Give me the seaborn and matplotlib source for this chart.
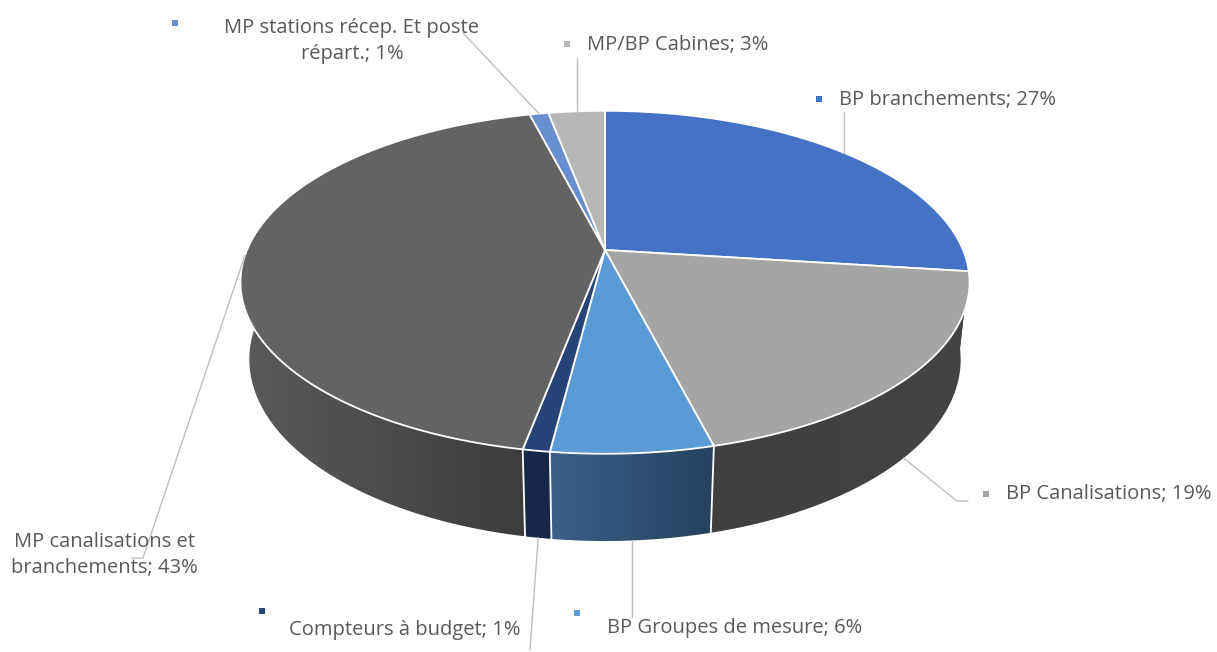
import textwrap
import numpy as np
import matplotlib
matplotlib.use("Agg")
import matplotlib.pyplot as plt
import seaborn as sns
from matplotlib.patches import Polygon
from matplotlib.colors import LinearSegmentedColormap

# donnees (parts en %)
categories = ["BP branchements", "BP Canalisations", "BP Groupes de mesure",
              "Compteurs à budget", "MP canalisations et branchements",
              "MP stations récep. Et poste répart.", "MP/BP Cabines"]
values = [27, 19, 6, 1, 43, 1, 3]

# couleurs dessus / cote (gauche -> droite)
top_colors = ["#4472C4", "#A5A5A5", "#5B9BD5", "#264478", "#636363", "#698ED0", "#B7B7B7"]
side_colors = [("#2b4c86", "#2b4c86"), ("#404040", "#444444"), ("#3a6089", "#25415e"),
               ("#172a4b", "#15284a"), ("#5a5a5a", "#3d3d3d"), ("#46619a", "#46619a"),
               ("#7a7a7a", "#7a7a7a")]

# position des etiquettes: marqueur, texte, alignement, largeur de coupure, trace du guide
label_layout = [
    dict(marker=(819, 99), text=(839, 100), ha="left", wrap=None, guide=[(None, 112)]),
    dict(marker=(986, 494), text=(1006, 494), ha="left", wrap=None, guide=[(957, 501), (968, 501)]),
    dict(marker=(577, 613), text=(607, 628), ha="left", wrap=None, guide=[(None, 617)]),
    dict(marker=(262, 611), text=(289, 630), ha="left", wrap=None, guide=[(530, 650)]),
    dict(marker=None, text=(104, 555), ha="center", wrap=20, guide=[(143, 558), (132, 558)]),
    dict(marker=(175, 23), text=(352, 41), ha="center", wrap=27, guide=[(463, 33)]),
    dict(marker=(567, 44), text=(587, 45), ha="left", wrap=None, guide=[(None, 58)]),
]

# geometrie du camembert 3D (perspective)
CX, CY = 605, 250
S = 358
CA, SA = 0.462, 0.887
D = 4.71
T = 0.245


def proj(theta_deg, z):
    th = np.radians(theta_deg)
    X, Y = np.cos(th), np.sin(th)
    sy = Y * CA + z * SA
    depth = Y * SA - z * CA
    p = D / (D + depth)
    return CX + S * p * X, CY - S * p * sy


sns.set_theme(style="white")
plt.rcParams["font.family"] = ["Open Sans", "DejaVu Sans"]

fig = plt.figure(figsize=(12.17, 6.52), dpi=100)
ax = fig.add_axes([0, 0, 1, 1])

total = sum(values)
bounds = 90 - 360 * np.concatenate([[0], np.cumsum(values)]) / total

# cotes (du fond vers l'avant)
sides = []
for i in range(len(values)):
    a1, a2 = bounds[i], bounds[i + 1]
    lo, hi = max(a2, -182), min(a1, 2)
    if lo >= hi:
        continue
    mid = (lo + hi) / 2
    sides.append((-np.sin(np.radians(mid)), i, lo, hi))
sides.sort()

for k, (_, i, lo, hi) in enumerate(sides):
    th = np.linspace(hi, lo, 120)
    tx, ty = proj(th, 0)
    bx, by = proj(th[::-1], -T)
    poly = np.column_stack([np.concatenate([tx, bx]), np.concatenate([ty, by])])
    z = 1 + k * 0.1
    patch = Polygon(poly, closed=True, facecolor="none", edgecolor="none", zorder=z)
    ax.add_patch(patch)
    cmap = LinearSegmentedColormap.from_list("g%d" % i, list(side_colors[i]))
    grad = np.linspace(0, 1, 256).reshape(1, -1)
    im = ax.imshow(grad, cmap=cmap, extent=(poly[:, 0].min(), poly[:, 0].max(),
                                             poly[:, 1].max(), poly[:, 1].min()),
                   aspect="auto", interpolation="bilinear", zorder=z)
    im.set_clip_path(patch)

# separations blanches sur les cotes
for b in bounds:
    if -170 < b < -15:
        x0, y0 = proj(b, 0)
        x1, y1 = proj(b, -T)
        ax.plot([x0, x1], [y0, y1], color="white", lw=1.3, zorder=4.5)

# dessus
for i in range(len(values)):
    th = np.linspace(bounds[i], bounds[i + 1], 200)
    ax_, ay_ = proj(th, 0)
    pts = np.column_stack([np.concatenate([[CX], ax_]), np.concatenate([[CY], ay_])])
    ax.add_patch(Polygon(pts, closed=True, facecolor=top_colors[i], edgecolor="white",
                         lw=1.3, joinstyle="round", zorder=5))

# etiquettes et guides
for i, (name, v) in enumerate(zip(categories, values)):
    lay = label_layout[i]
    txt = f"{name}; {v}%"
    if lay["wrap"]:
        txt = "\n".join(textwrap.wrap(txt, lay["wrap"]))
    ax.text(lay["text"][0], lay["text"][1], txt, ha=lay["ha"], va="center",
            fontsize=14.5, color="#595959", linespacing=1.35, zorder=7)
    if lay["marker"] is not None:
        ax.scatter([lay["marker"][0]], [lay["marker"][1]], marker="s", s=24,
                   color=top_colors[i], linewidths=0, zorder=7)
    mid = (bounds[i] + bounds[i + 1]) / 2
    z = -T if np.sin(np.radians(mid)) < -0.3 else 0
    axp, ayp = proj(mid, z)
    xs, ys = [axp], [ayp]
    for gx, gy in lay["guide"]:
        xs.append(axp if gx is None else gx)
        ys.append(gy)
    ax.plot(xs, ys, color="#BFBFBF", lw=1, zorder=6)

ax.set_xlim(0, 1217)
ax.set_ylim(652, 0)
ax.axis("off")

fig.savefig("out.png", dpi=100)
